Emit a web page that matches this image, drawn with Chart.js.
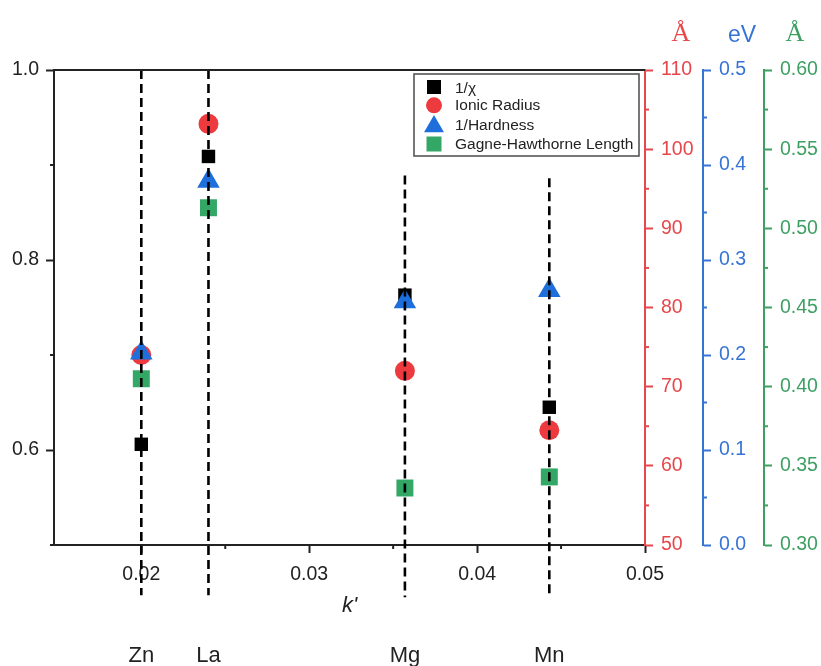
<!DOCTYPE html>
<html>
<head>
<meta charset="utf-8">
<script src="https://cdn.jsdelivr.net/npm/chart.js@4.4.1/dist/chart.umd.min.js"></script>
<style>
  html, body { margin: 0; padding: 0; background: #ffffff; }
  #wrap { width: 821px; height: 666px; position: relative; }
</style>
</head>
<body>
<div id="wrap"><canvas id="c" width="821" height="666"></canvas></div>
<script>
// Cations and their k' positions
const elements = ['Zn', 'La', 'Mg', 'Mn'];
const kPrime = [0.0200, 0.0240, 0.0357, 0.0443];

// Series (one value per cation)
const invElectronegativity = [0.606, 0.909, 0.763, 0.645];   // 1/χ, left axis
const ionicRadius = [74, 103.2, 72, 64.5];                   // Å (×100), red axis
const invHardness = [0.202, 0.383, 0.256, 0.268];            // eV, blue axis
const gagneHawthorne = [0.405, 0.513, 0.336, 0.343];         // Å, green axis

// Vertical guide extents (left-axis units)
const guideTop = [1.0, 1.0, 0.889, 0.886];
const guideBottom = [0.447, 0.447, 0.445, 0.447];

// Tick values
const xMajor = [0.02, 0.03, 0.04, 0.05];
const xMinor = [0.025, 0.035, 0.045];
const yMajor = [0.6, 0.8, 1.0];
const yMinor = [0.5, 0.7, 0.9];
const radiusMajor = [50, 60, 70, 80, 90, 100, 110];
const radiusMinor = [55, 65, 75, 85, 95, 105];
const hardMajor = [0.0, 0.1, 0.2, 0.3, 0.4, 0.5];
const hardMinor = [0.05, 0.15, 0.25, 0.35, 0.45];
const ghMajor = [0.30, 0.35, 0.40, 0.45, 0.50, 0.55, 0.60];
const ghMinor = [0.325, 0.375, 0.425, 0.475, 0.525, 0.575];

const seriesNames = ['1/\u03C7', 'Ionic Radius', '1/Hardness', 'Gagne-Hawthorne Length'];

const RED = '#EC3A3E', BLUE = '#1E6FDC', GREEN = '#33A766';
const RED_AX = '#E6474B', BLUE_AX = '#3674D4', GREEN_AX = '#3E9F62';
const TXT = '#222222';
const FONT = '"Liberation Sans", Arial, sans-serif';

const pts = (ys) => kPrime.map((k, i) => ({ x: k, y: ys[i] }));

const markerSets = [
  { label: seriesNames[0], data: pts(invElectronegativity), yAxisID: 'y', pointStyle: 'rect', pointRadius: 9.5, backgroundColor: '#000000', order: 5 },
  { label: seriesNames[1], data: pts(ionicRadius), yAxisID: 'yR', pointStyle: 'circle', pointRadius: 10, backgroundColor: RED, order: 4 },
  { label: seriesNames[2], data: pts(invHardness), yAxisID: 'yB', pointStyle: 'triangle', pointRadius: 13, backgroundColor: BLUE, order: 3 },
  { label: seriesNames[3], data: pts(gagneHawthorne), yAxisID: 'yG', pointStyle: 'rect', pointRadius: 12, backgroundColor: GREEN, order: 2 }
].map(d => Object.assign(d, { borderWidth: 0, pointBorderWidth: 0, pointHoverRadius: d.pointRadius, pointBackgroundColor: d.backgroundColor }));

const legendRadius = [9.9, 8, 11.5, 10.6];

const guideSets = kPrime.map((k, i) => ({
  type: 'scatter',
  label: 'guide-' + elements[i],
  data: [{ x: k, y: guideTop[i] }, { x: k, y: guideBottom[i] }],
  yAxisID: 'y',
  showLine: true,
  borderColor: '#000000',
  borderWidth: 2.6,
  borderDash: [9, 5],
  pointRadius: 0,
  pointHoverRadius: 0,
  clip: false,
  order: 1
}));

function fixedTicks(values) {
  return (scale) => { scale.ticks = values.map(v => ({ value: v })); };
}

function rightAxis(color, major, digits, min, max, weight, width) {
  return {
    type: 'linear', position: 'right', min: min, max: max, weight: weight,
    afterBuildTicks: fixedTicks(major),
    afterFit: (s) => { s.width = width; },
    ticks: { color: color, font: { family: FONT, size: 19.5 }, padding: 8,
             callback: (v) => Number(v).toFixed(digits) },
    grid: { display: true, drawOnChartArea: false, drawTicks: true, tickLength: 8, tickWidth: 2, tickColor: color },
    border: { display: true, color: color, width: 2 }
  };
}

// Minor ticks, frame, axis units, cation names and the key box
const decorations = {
  id: 'decorations',
  afterDraw(chart) {
    const ctx = chart.ctx;
    const area = chart.chartArea;
    const s = chart.scales;
    ctx.save();

    // top frame
    ctx.strokeStyle = '#222';
    ctx.lineWidth = 2;
    ctx.beginPath();
    ctx.moveTo(area.left, area.top);
    ctx.lineTo(area.right, area.top);
    ctx.stroke();

    // minor ticks
    const minor = (scale, values, color, side) => {
      ctx.strokeStyle = color;
      ctx.lineWidth = 2;
      values.forEach(v => {
        const p = scale.getPixelForValue(v);
        ctx.beginPath();
        if (side === 'left') { ctx.moveTo(scale.right, p); ctx.lineTo(scale.right - 4, p); }
        else if (side === 'right') { ctx.moveTo(scale.left, p); ctx.lineTo(scale.left + 4, p); }
        else { ctx.moveTo(p, scale.top); ctx.lineTo(p, scale.top + 4); }
        ctx.stroke();
      });
    };
    minor(s.x, xMinor, '#222', 'bottom');
    minor(s.y, yMinor, '#222', 'left');
    minor(s.yR, radiusMinor, RED_AX, 'right');
    minor(s.yB, hardMinor, BLUE_AX, 'right');
    minor(s.yG, ghMinor, GREEN_AX, 'right');

    // axis units
    ctx.textAlign = 'center';
    ctx.textBaseline = 'alphabetic';
    ctx.font = '26px "Liberation Serif", "Times New Roman", serif';
    ctx.fillStyle = RED_AX;
    ctx.fillText('\u00C5', s.yR.left + 36, 41);
    ctx.fillStyle = GREEN_AX;
    ctx.fillText('\u00C5', s.yG.left + 31, 41);
    ctx.font = '23px ' + FONT;
    ctx.fillStyle = BLUE_AX;
    ctx.fillText('eV', s.yB.left + 39, 42);

    // cation names under the guides
    ctx.fillStyle = TXT;
    ctx.font = '22px ' + FONT;
    ctx.textBaseline = 'alphabetic';
    elements.forEach((el, i) => {
      ctx.fillText(el, s.x.getPixelForValue(kPrime[i]), 662);
    });

    // key box
    const bx = area.right - 231, by = area.top + 4, bw = 225, bh = 82;
    ctx.fillStyle = '#ffffff';
    ctx.fillRect(bx, by, bw, bh);
    ctx.strokeStyle = '#555555';
    ctx.lineWidth = 1.6;
    ctx.strokeRect(bx, by, bw, bh);
    const rowY = [13, 31.3, 52.5, 70];
    const textY = [15, 32, 52, 71];
    markerSets.forEach((d, i) => {
      ctx.fillStyle = d.backgroundColor;
      Chart.helpers.drawPoint(ctx, { pointStyle: d.pointStyle, radius: legendRadius[i], rotation: 0, borderWidth: 0 }, bx + 20, by + rowY[i]);
      ctx.fillStyle = TXT;
      ctx.font = '15.5px ' + FONT;
      ctx.textAlign = 'left';
      ctx.textBaseline = 'middle';
      ctx.fillText(d.label, bx + 41, by + textY[i]);
    });

    ctx.restore();
  }
};

new Chart(document.getElementById('c'), {
  type: 'scatter',
  data: { datasets: markerSets.concat(guideSets) },
  options: {
    responsive: false,
    animation: false,
    devicePixelRatio: 1,
    layout: { padding: { top: 70, left: 0, right: 0, bottom: 0 } },
    plugins: { legend: { display: false }, tooltip: { enabled: false } },
    scales: {
      x: {
        type: 'linear', position: 'bottom', min: 0.0148, max: 0.05,
        afterBuildTicks: fixedTicks(xMajor),
        afterFit: (s) => { s.height = 121; },
        ticks: { color: TXT, font: { family: FONT, size: 19.5 }, padding: 10,
                 callback: (v) => Number(v).toFixed(2), maxRotation: 0, autoSkip: false },
        grid: { display: true, drawOnChartArea: false, drawTicks: true, tickLength: 8, tickWidth: 2, tickColor: '#222' },
        border: { display: true, color: '#222', width: 2 },
        title: { display: true, text: "k'", color: TXT,
                 font: { family: FONT, size: 22, style: 'italic' }, padding: { top: 0, bottom: 47 } }
      },
      y: {
        type: 'linear', position: 'left', min: 0.5, max: 1.0,
        afterBuildTicks: fixedTicks(yMajor),
        afterFit: (s) => { s.width = 54; },
        ticks: { color: TXT, font: { family: FONT, size: 19.5 }, padding: 7,
                 callback: (v) => Number(v).toFixed(1) },
        grid: { display: true, drawOnChartArea: false, drawTicks: true, tickLength: 8, tickWidth: 2, tickColor: '#222' },
        border: { display: true, color: '#222', width: 2 }
      },
      yR: rightAxis(RED_AX, radiusMajor, 0, 50, 110, 1, 58),
      yB: rightAxis(BLUE_AX, hardMajor, 1, 0, 0.5, 2, 61),
      yG: rightAxis(GREEN_AX, ghMajor, 2, 0.30, 0.60, 3, 57)
    }
  },
  plugins: [decorations]
});
</script>
</body>
</html>
